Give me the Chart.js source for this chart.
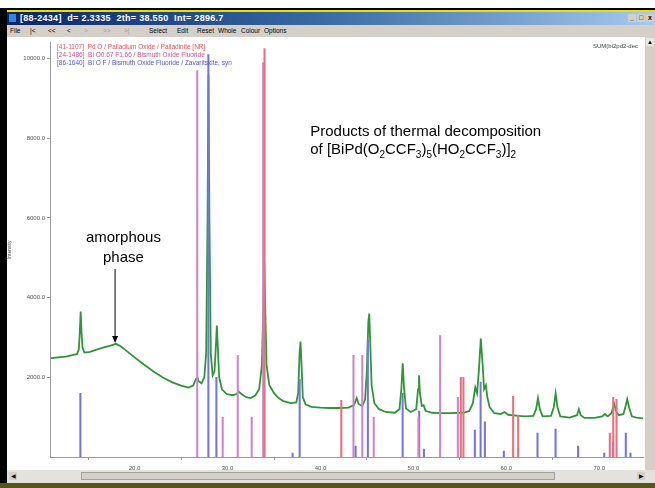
<!DOCTYPE html>
<html>
<head>
<meta charset="utf-8">
<script src="https://cdn.jsdelivr.net/npm/chart.js@4.4.1/dist/chart.umd.min.js"></script>
<style>
  body { margin:0; width:655px; height:488px; background:#000; position:relative; overflow:hidden; font-family:"Liberation Sans", Arial, sans-serif; }
  .abs { position:absolute; }
  #titlebar { left:7px; top:12px; width:648px; height:13px; background:linear-gradient(90deg,#0a246a 0%,#3a6ea5 50%,#a6caf0 100%); color:#fff; font-size:9px; font-weight:bold; line-height:13px; white-space:pre; letter-spacing:0.3px; }
  #titlebar .btn { position:absolute; top:2px; width:8px; height:8px; background:#d4d0c8; color:#000; font-size:7px; line-height:8px; text-align:center; font-weight:bold; letter-spacing:0; }
  #menubar { left:7px; top:25px; width:648px; height:12px; background:#d4d0c8; font-size:6.5px; line-height:12px; color:#000; }
  #menubar span { position:absolute; top:0; }
  #menubar .off { color:#9a9a9a; }
  #plot { left:7px; top:37px; width:638px; height:433px; background:#fff; }
  #vscroll { left:645px; top:37px; width:10px; height:433px; background:#d4d0c8; }
  #hscroll { left:7px; top:470px; width:648px; height:13px; background:#e4e2dc; }
  #olive { left:0; top:483px; width:655px; height:5px; background:#55551c; }
</style>
</head>
<body>
<div class="abs" style="left:0;top:0;width:655px;height:8px;background:#fff"></div>
<div class="abs" style="left:7px;top:10px;width:648px;height:2px;background:#e8e000"></div>
<div id="titlebar" class="abs"><span style="display:inline-block;width:7px;height:8px;background:#2a8ae0;margin:0 4px 0 2px;vertical-align:-1px"></span>[88-2434]  d= 2.3335  2th= 38.550  Int= 2896.7<span class="btn" style="left:621px">_</span><span class="btn" style="left:630px">&#9633;</span><span class="btn" style="left:639px">x</span></div>
<div id="menubar" class="abs">
  <span style="left:3px">File</span>
  <span style="left:23px">|&lt;</span>
  <span style="left:41px">&lt;&lt;</span>
  <span style="left:60px">&lt;</span>
  <span class="off" style="left:77px">&gt;</span>
  <span class="off" style="left:96px">&gt;&gt;</span>
  <span class="off" style="left:117px">&gt;|</span>
  <span style="left:142px">Select</span>
  <span style="left:170px">Edit</span>
  <span style="left:190px">Reset</span>
  <span style="left:211px">Whole</span>
  <span style="left:234px">Colour</span>
  <span style="left:257px">Options</span>
</div>
<div id="plot" class="abs"><canvas id="xrd" width="638" height="433"></canvas></div>
<div id="vscroll" class="abs"><div style="position:absolute;left:1px;top:1px;width:8px;height:8px;background:#e8e6e0;font-size:6px;text-align:center;line-height:8px">&#9650;</div></div>
<div id="hscroll" class="abs">
  <div style="position:absolute;left:2px;top:2px;width:8px;height:8px;background:#d4d0c8;font-size:6px;line-height:8px;text-align:center">&#9664;</div>
  <div style="position:absolute;left:74px;top:2px;width:474px;height:8px;background:#d4d0c8;border:1px solid #a0a0a0;box-sizing:border-box"></div>
  <div style="position:absolute;left:630px;top:2px;width:8px;height:8px;background:#d4d0c8;font-size:6px;line-height:8px;text-align:center">&#9654;</div>
</div>
<div id="olive" class="abs"></div>

<script>
// measured pattern (2theta, counts)
const patternTwoTheta = [
  11.0, 11.8, 12.6, 13.4, 13.8, 14.0, 14.1, 14.2, 14.3, 14.4, 14.6, 15.2, 16.0, 16.8, 17.5, 18.0, 18.5, 19.2, 20.0,
  21.0, 22.0, 23.0, 24.0, 25.0, 25.8, 26.3, 26.6, 26.75, 26.9, 27.2, 27.5, 27.7, 27.85, 27.95, 28.05, 28.2, 28.4,
  28.6, 28.75, 28.85, 28.95, 29.1, 29.4, 29.9, 30.5, 31.0, 31.2, 31.5, 32.0, 32.5, 33.0, 33.4, 33.7, 33.85, 33.95,
  34.05, 34.2, 34.5, 35.0, 35.5, 36.0, 36.8, 37.4, 37.6, 37.75, 37.85, 37.95, 38.1, 38.4, 39.0, 40.0, 41.0, 42.0,
  43.0, 43.6, 43.9, 44.1, 44.5, 44.8, 45.0, 45.15, 45.25, 45.35, 45.5, 45.8, 46.3, 47.0, 48.0, 48.5, 48.7, 48.85,
  49.0, 49.2, 49.7, 50.3, 50.5, 50.6, 50.7, 50.9, 51.1, 51.3, 52.0, 53.0, 54.0, 55.0, 55.5, 56.0, 56.4, 56.65,
  56.85, 57.05, 57.25, 57.45, 57.6, 57.8, 57.95, 58.2, 58.7, 59.4, 59.8, 60.2, 61.0, 62.0, 62.9, 63.2, 63.4, 63.6,
  63.9, 64.8, 65.1, 65.3, 65.5, 65.8, 66.8, 67.6, 67.8, 68.0, 68.4, 69.5, 70.3, 70.6, 70.9, 71.3, 71.6, 71.8,
  72.1, 72.6, 72.85, 73.0, 73.2, 73.5, 74.0, 74.7
];
const patternCounts = [
  2480, 2500, 2520, 2560, 2580, 2700, 3100, 3650, 3100, 2750, 2620, 2640, 2700, 2760, 2800, 2840, 2780, 2650, 2500,
  2320, 2150, 2000, 1880, 1790, 1740, 1790, 1960, 2000, 1900, 1850, 2000, 2600, 6000, 9600, 6000, 2600, 2050,
  2150, 2800, 3300, 2800, 2000, 1700, 1580, 1550, 1580, 1640, 1580, 1500, 1480, 1550, 1700, 2300, 3800, 4900,
  3800, 2300, 1800, 1600, 1480, 1400, 1350, 1370, 1600, 2600, 2900, 2400, 1500, 1320, 1260, 1240, 1230, 1230,
  1240, 1300, 1480, 1330, 1280, 1450, 2200, 3400, 3600, 2900, 1800, 1350, 1200, 1130, 1110, 1200, 1700, 2350,
  1700, 1220, 1130, 1200, 1700, 2050, 1600, 1280, 1300, 1160, 1110, 1100, 1100, 1110, 1120, 1150, 1350, 1750,
  1600, 2200, 2975, 2300, 1700, 1800, 1500, 1250, 1100, 1080, 1130, 1060, 1040, 1020, 1030, 1200, 1475, 1200,
  1020, 1030, 1250, 1600, 1250, 1020, 990, 1050, 1200, 1050, 980, 980, 1020, 1080, 1020, 1100, 1330, 1150,
  1050, 1080, 1300, 1450, 1250, 1020, 990, 970
];

// reference card sticks
const pdoTwoTheta = [33.98, 42.24, 55.1, 55.38, 60.73, 61.27, 71.13, 71.5, 71.85];
const pdoCounts   = [10250, 1425, 2000, 2000, 1525, 1050, 600, 1500, 1450];

const bofTwoTheta = [26.74, 29.48, 31.1, 32.6, 33.84, 43.55, 44.5, 45.73, 50.54, 52.87, 54.78];
const bofCounts   = [9700, 1000, 2550, 1000, 9900, 2550, 2550, 1000, 1000, 3050, 1500];

const zavTwoTheta = [14.17, 27.94, 28.8, 37.0, 37.76, 43.78, 45.1, 48.84, 50.62, 51.13, 56.61, 57.23, 57.69,
  59.73, 63.35, 65.29, 67.72, 70.53, 71.48, 72.85, 73.35];
const zavCounts   = [1600, 10100, 2000, 100, 1950, 275, 2925, 1600, 1150, 200, 675, 1880, 880,
  150, 600, 700, 275, 100, 375, 600, 100];

const cardLabels = [
  "[41-1107]  Pd O / Palladium Oxide / Palladinite [NR]",
  "[24-1486]  Bi O0.67 F1.66 / Bismuth Oxide Fluoride",
  "[86-1640]  Bi O F / Bismuth Oxide Fluoride / Zavaritskite, syn"
];
const yTicks = [2000, 4000, 6000, 8000, 10000];
const xTicks = [20, 30, 40, 50, 60, 70];

const pairs = (xs, ys) => xs.map((v, i) => ({ x: v, y: ys[i] }));

function stick(label, xs, ys, color) {
  return {
    type: 'bar', label: label, data: pairs(xs, ys),
    backgroundColor: color, barThickness: 1.4, grouped: false,
    borderWidth: 0, order: 1
  };
}

// text on top of the plot
const notes = {
  id: 'notes',
  afterDatasetsDraw(chart) {
    const { ctx, scales: { x, y } } = chart;
    ctx.save();
    // card legend
    ctx.font = '6.5px "Liberation Sans", Arial';
    ctx.textBaseline = 'middle';
    const cols = ['#e0505c', '#c8508c', '#5454d8'];
    cardLabels.forEach((t, i) => {
      ctx.fillStyle = cols[i];
      ctx.fillText(t, x.left + 7, 10 + i * 8);
    });
    ctx.font = '6px "Liberation Sans", Arial';
    ctx.fillStyle = '#444';
    ctx.fillText('SUM(bi2pd2-dec', x.right - 50, 9);

    // title
    ctx.fillStyle = '#000';
    ctx.textBaseline = 'alphabetic';
    ctx.font = '15px "Liberation Sans", Arial';
    const tx = x.getPixelForValue(38.9), ty = y.getPixelForValue(8050);
    ctx.fillText('Products of thermal decomposition', tx, ty);
    const parts = [['of [BiPd(O', 0], ['2', 1], ['CCF', 0], ['3', 1], [')', 0], ['5', 1], ['(HO', 0], ['2', 1],
      ['CCF', 0], ['3', 1], [')]', 0], ['2', 1]];
    let cx = tx;
    parts.forEach(([s, sub]) => {
      ctx.font = sub ? '10px "Liberation Sans", Arial' : '15px "Liberation Sans", Arial';
      ctx.fillText(s, cx, ty + 18 + (sub ? 4 : 0));
      cx += ctx.measureText(s).width;
    });

    // amorphous hump note
    ctx.font = '15px "Liberation Sans", Arial';
    ctx.textAlign = 'center';
    const ax = x.getPixelForValue(17.9);
    const lx = x.getPixelForValue(18.8);
    ctx.fillText('amorphous', lx, y.getPixelForValue(5400));
    ctx.fillText('phase', lx, y.getPixelForValue(4900));
    const top = y.getPixelForValue(4720), tip = y.getPixelForValue(2860);
    ctx.strokeStyle = '#000';
    ctx.lineWidth = 1;
    ctx.beginPath();
    ctx.moveTo(ax, top); ctx.lineTo(ax, tip - 6); ctx.stroke();
    ctx.beginPath();
    ctx.moveTo(ax, tip); ctx.lineTo(ax - 3, tip - 7); ctx.lineTo(ax + 3, tip - 7); ctx.closePath();
    ctx.fillStyle = '#000'; ctx.fill();

    // axis tail label
    ctx.font = '6px "Liberation Sans", Arial';
    ctx.fillStyle = '#444';
    ctx.textAlign = 'left';
    ctx.fillText('2Theta', x.right - 20, x.bottom + 13);
    ctx.restore();
  }
};

new Chart(document.getElementById('xrd'), {
  type: 'line',
  data: {
    datasets: [
      stick(cardLabels[0], pdoTwoTheta, pdoCounts, '#e8707c'),
      stick(cardLabels[1], bofTwoTheta, bofCounts, '#cc84cc'),
      stick(cardLabels[2], zavTwoTheta, zavCounts, '#7474e4'),
      {
        label: 'pattern', data: pairs(patternTwoTheta, patternCounts),
        borderColor: '#2e9636', borderWidth: 1.8, pointRadius: 0, tension: 0, order: 2
      }
    ]
  },
  options: {
    responsive: false,
    animation: false,
    layout: { padding: { top: 4, right: 2, left: 0, bottom: 0 } },
    plugins: { legend: { display: false }, tooltip: { enabled: false } },
    scales: {
      x: {
        type: 'linear', min: 10.9, max: 74.7, offset: false,
        afterBuildTicks: s => { s.ticks = xTicks.map(v => ({ value: v })); },
        afterFit: s => { s.height = 13; },
        grid: { drawOnChartArea: false, tickLength: 3, color: '#999' },
        border: { color: '#999', width: 1 },
        ticks: { font: { size: 6, family: '"Liberation Sans", Arial' }, color: '#555', padding: 5,
          maxRotation: 0, callback: v => v.toFixed(1) }
      },
      y: {
        min: 0, max: 10400,
        afterBuildTicks: s => { s.ticks = yTicks.map(v => ({ value: v })); },
        afterFit: s => { s.width = 43; },
        grid: { drawOnChartArea: false, tickLength: 3, color: '#999' },
        border: { color: '#999', width: 1 },
        title: { display: true, text: 'Intensity', font: { size: 5, family: '"Liberation Sans", Arial' }, color: '#555', padding: 0 },
        ticks: { font: { size: 6, family: '"Liberation Sans", Arial' }, color: '#555', padding: 2,
          callback: v => v.toFixed(1) }
      }
    }
  },
  plugins: [notes]
});
</script>
</body>
</html>
